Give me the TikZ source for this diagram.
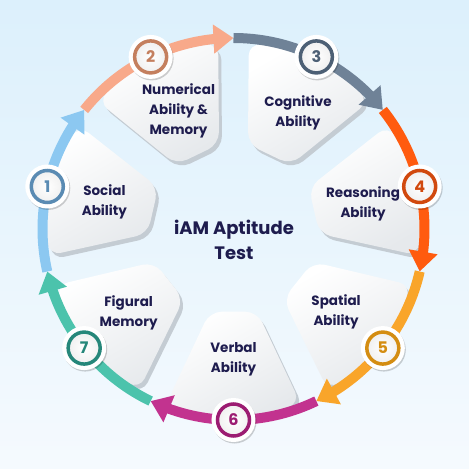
\documentclass[tikz,border=0pt]{standalone}
\usepackage{fontspec}
\setmainfont{Poppins}
\usetikzlibrary{
    arrows.meta,
    bending,
    shadows
}

\definecolor{bgtop}{HTML}{DCF0FC}
\definecolor{bgbottom}{HTML}{F5FAFE}
\definecolor{navy}{HTML}{1E1C4E}
\definecolor{petalgray}{HTML}{E6E9EC}
\definecolor{petalshade}{HTML}{C4CCD3}
\definecolor{arrowblue}{HTML}{8CC8F1}
\definecolor{ringblue}{HTML}{5A8BB3}
\definecolor{arrowpeach}{HTML}{F8A98A}
\definecolor{ringpeach}{HTML}{C47F5E}
\definecolor{arrowslate}{HTML}{6F8297}
\definecolor{ringslate}{HTML}{4D6075}
\definecolor{arroworange}{HTML}{FF5B0F}
\definecolor{ringorange}{HTML}{D1490E}
\definecolor{arrowamber}{HTML}{F9A52A}
\definecolor{ringamber}{HTML}{D48D12}
\definecolor{arrowmagenta}{HTML}{C2338F}
\definecolor{ringmagenta}{HTML}{9C1C72}
\definecolor{arrowteal}{HTML}{4CC3AC}
\definecolor{ringteal}{HTML}{26877A}

\tikzset{
    petalface/.style={top color=white, bottom color=petalgray, shading angle=30, rounded corners=12pt},
    petalback/.style={fill=petalshade, rounded corners=12pt, xshift=3pt, yshift=-4pt},
    ringarrow/.style={line width=10pt, -{Triangle[width=28pt,length=20pt,flex]}},
    badgebase/.style={circle, fill=white, minimum size=44pt, inner sep=0pt,
        drop shadow={shadow xshift=1pt, shadow yshift=-1.5pt, fill=black, opacity=0.18}},
    badge/.style={circle, draw=#1, text=#1, line width=3.5pt, minimum size=32pt, inner sep=0pt,
        inner color=white, outer color=gray!12, font=\bfseries\fontsize{16}{16}\selectfont},
    petaltext/.style={align=center, text=navy, font=\bfseries\fontsize{13.5}{20}\selectfont},
    titletext/.style={align=center, text=navy, font=\bfseries\fontsize{18}{25}\selectfont}
}

% one white petal with its grey edge, #1 = angle of its middle
\newcommand{\petal}[1]{%
    \fill[petalback] (#1+21:186) arc[start angle=#1+21, end angle=#1-21, radius=186]
        -- (#1-16:86) -- (#1+16:86) -- cycle;
    \shade[petalface] (#1+21:186) arc[start angle=#1+21, end angle=#1-21, radius=186]
        -- (#1-16:86) -- (#1+16:86) -- cycle;}

\begin{document}
\begin{tikzpicture}[x=1pt, y=1pt]

% Background
\useasboundingbox (-233.5,-240) rectangle (235.5,229);
\shade[top color=bgtop, bottom color=bgbottom] (-233.5,-240) rectangle (235.5,229);

% Petals
\petal{167.14}
\petal{115.71}
\petal{64.29}
\petal{12.86}
\petal{-38.57}
\petal{-90}
\petal{-141.43}

% Arrows round the ring
\draw[ringarrow, arrowblue] (192.86:191) arc[start angle=192.86, end angle=141.43, radius=191];
\draw[ringarrow, arrowpeach] (141.43:191) arc[start angle=141.43, end angle=90, radius=191];
\draw[ringarrow, arrowslate] (90:191) arc[start angle=90, end angle=38.57, radius=191];
\draw[ringarrow, arroworange] (38.57:191) arc[start angle=38.57, end angle=-12.86, radius=191];
\draw[ringarrow, arrowamber] (-12.86:191) arc[start angle=-12.86, end angle=-64.29, radius=191];
\draw[ringarrow, arrowmagenta] (-64.29:191) arc[start angle=-64.29, end angle=-115.71, radius=191];
\draw[ringarrow, arrowteal] (-115.71:191) arc[start angle=-115.71, end angle=-167.14, radius=191];

% Numbered badges
\node[badgebase] (n1) at (167.14:191) {};
\node[badge=ringblue] at (n1) {1};
\node[badgebase] (n2) at (115.71:191) {};
\node[badge=ringpeach] at (n2) {2};
\node[badgebase] (n3) at (64.29:191) {};
\node[badge=ringslate] at (n3) {3};
\node[badgebase] (n4) at (12.86:191) {};
\node[badge=ringorange] at (n4) {4};
\node[badgebase] (n5) at (-38.57:191) {};
\node[badge=ringamber] at (n5) {5};
\node[badgebase] (n6) at (-90:191) {};
\node[badge=ringmagenta] at (n6) {6};
\node[badgebase] (n7) at (-141.43:191) {};
\node[badge=ringteal] at (n7) {7};

% Petal texts
\node[petaltext] (t1) at (168:132) {Social\\Ability};
\node[petaltext] (t2) at (115:130) {Numerical\\Ability \&\\Memory};
\node[petaltext] (t3) at (61:133) {Cognitive\\Ability};
\node[petaltext] (t4) at (11:132) {Reasoning\\Ability};
\node[petaltext] (t5) at (-39:132) {Spatial\\Ability};
\node[petaltext] (t6) at (-90:130) {Verbal\\Ability};
\node[petaltext] (t7) at (-141.5:134) {Figural\\Memory};

% Centre
\node[titletext] (title) at (0.5,-11) {iAM Aptitude\\Test};

\end{tikzpicture}
\end{document}
